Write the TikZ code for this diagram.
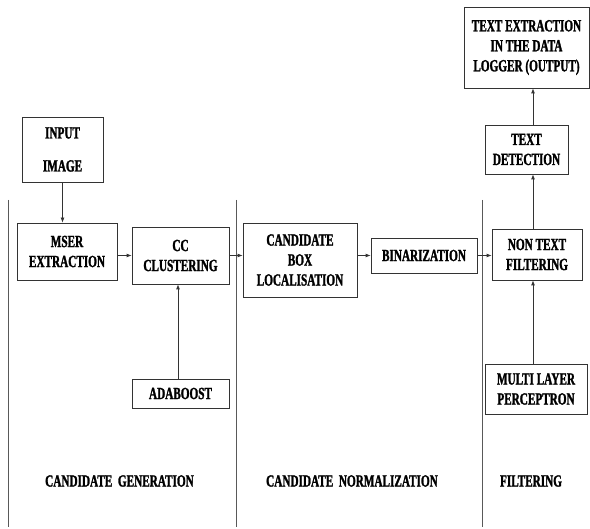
\documentclass[tikz,border=0pt]{standalone}
\usepackage{fontspec}
\setmainfont[FakeStretch=0.66, BoldFeatures={FakeBold=1.5}]{Liberation Serif}
\usetikzlibrary{arrows.meta}

\begin{document}
\begin{tikzpicture}[x=1pt,y=-1pt,>={Latex[length=5pt,width=4pt]},
  blk/.style={draw=black!80, line width=0.8pt, align=center, inner sep=0pt,
    font=\bfseries\fontsize{17}{20}\selectfont},
  lbl/.style={font=\bfseries\fontsize{17}{20}\selectfont},
  sep/.style={draw=black!65, line width=0.8pt},
  arr/.style={->, draw=black!80, line width=0.8pt}]
\useasboundingbox (0,0) rectangle (590,529);

\node[blk, minimum width=81pt, minimum height=65pt] (input) at (62.5,149.5) {INPUT\\[13pt]IMAGE};
\node[blk, minimum width=100pt, minimum height=57pt] (mser) at (67,251.5) {MSER\\EXTRACTION};
\node[blk, minimum width=97pt, minimum height=57pt] (cc) at (180.5,255.5) {CC\\CLUSTERING};
\node[blk, minimum width=97pt, minimum height=29pt] (ada) at (180.5,393.5) {ADABOOST};
\node[blk, minimum width=114pt, minimum height=74pt] (cbl) at (300,260) {CANDIDATE\\BOX\\LOCALISATION};
\node[blk, minimum width=106pt, minimum height=35pt] (bin) at (424,255.5) {BINARIZATION};
\node[blk, minimum width=90pt, minimum height=51pt] (ntf) at (537,254.5) {NON TEXT\\FILTERING};
\node[blk, minimum width=102pt, minimum height=50pt] (mlp) at (536,389) {MULTI LAYER\\PERCEPTRON};
\node[blk, minimum width=83pt, minimum height=49pt] (td) at (526.5,149.5) {TEXT\\DETECTION};
\node[blk, minimum width=125pt, minimum height=81pt] (te) at (526.5,47.5) {TEXT EXTRACTION\\IN THE DATA\\LOGGER (OUTPUT)};

\node[lbl] (gen) at (119.5,481) {CANDIDATE\ \,GENERATION};
\node[lbl] (norm) at (352,481) {CANDIDATE\ \,NORMALIZATION};
\node[lbl] (filt) at (531,481) {FILTERING};

\coordinate (col) at (533,0);

\draw[sep] (8,200) -- (8,527);
\draw[sep] (236,200) -- (236,527);
\draw[sep] (482,200) -- (482,527);

\draw[arr] (input.south) -- (input.south |- mser.north);
\draw[arr] (mser.east |- cc) -- (cc.west);
\draw[arr] (cc.east) -- (cc.east -| cbl.west);
\draw[arr] (bin.west -| cbl.east) -- (bin.west);
\draw[arr] (bin.east) -- (bin.east -| ntf.west);
\draw[arr] (ada.north -| 178,0) -- (cc.south -| 178,0);
\draw[arr] (col |- mlp.north) -- (col |- ntf.south);
\draw[arr] (col |- ntf.north) -- (col |- td.south);
\draw[arr] (col |- td.north) -- (col |- te.south);

\end{tikzpicture}
\end{document}
